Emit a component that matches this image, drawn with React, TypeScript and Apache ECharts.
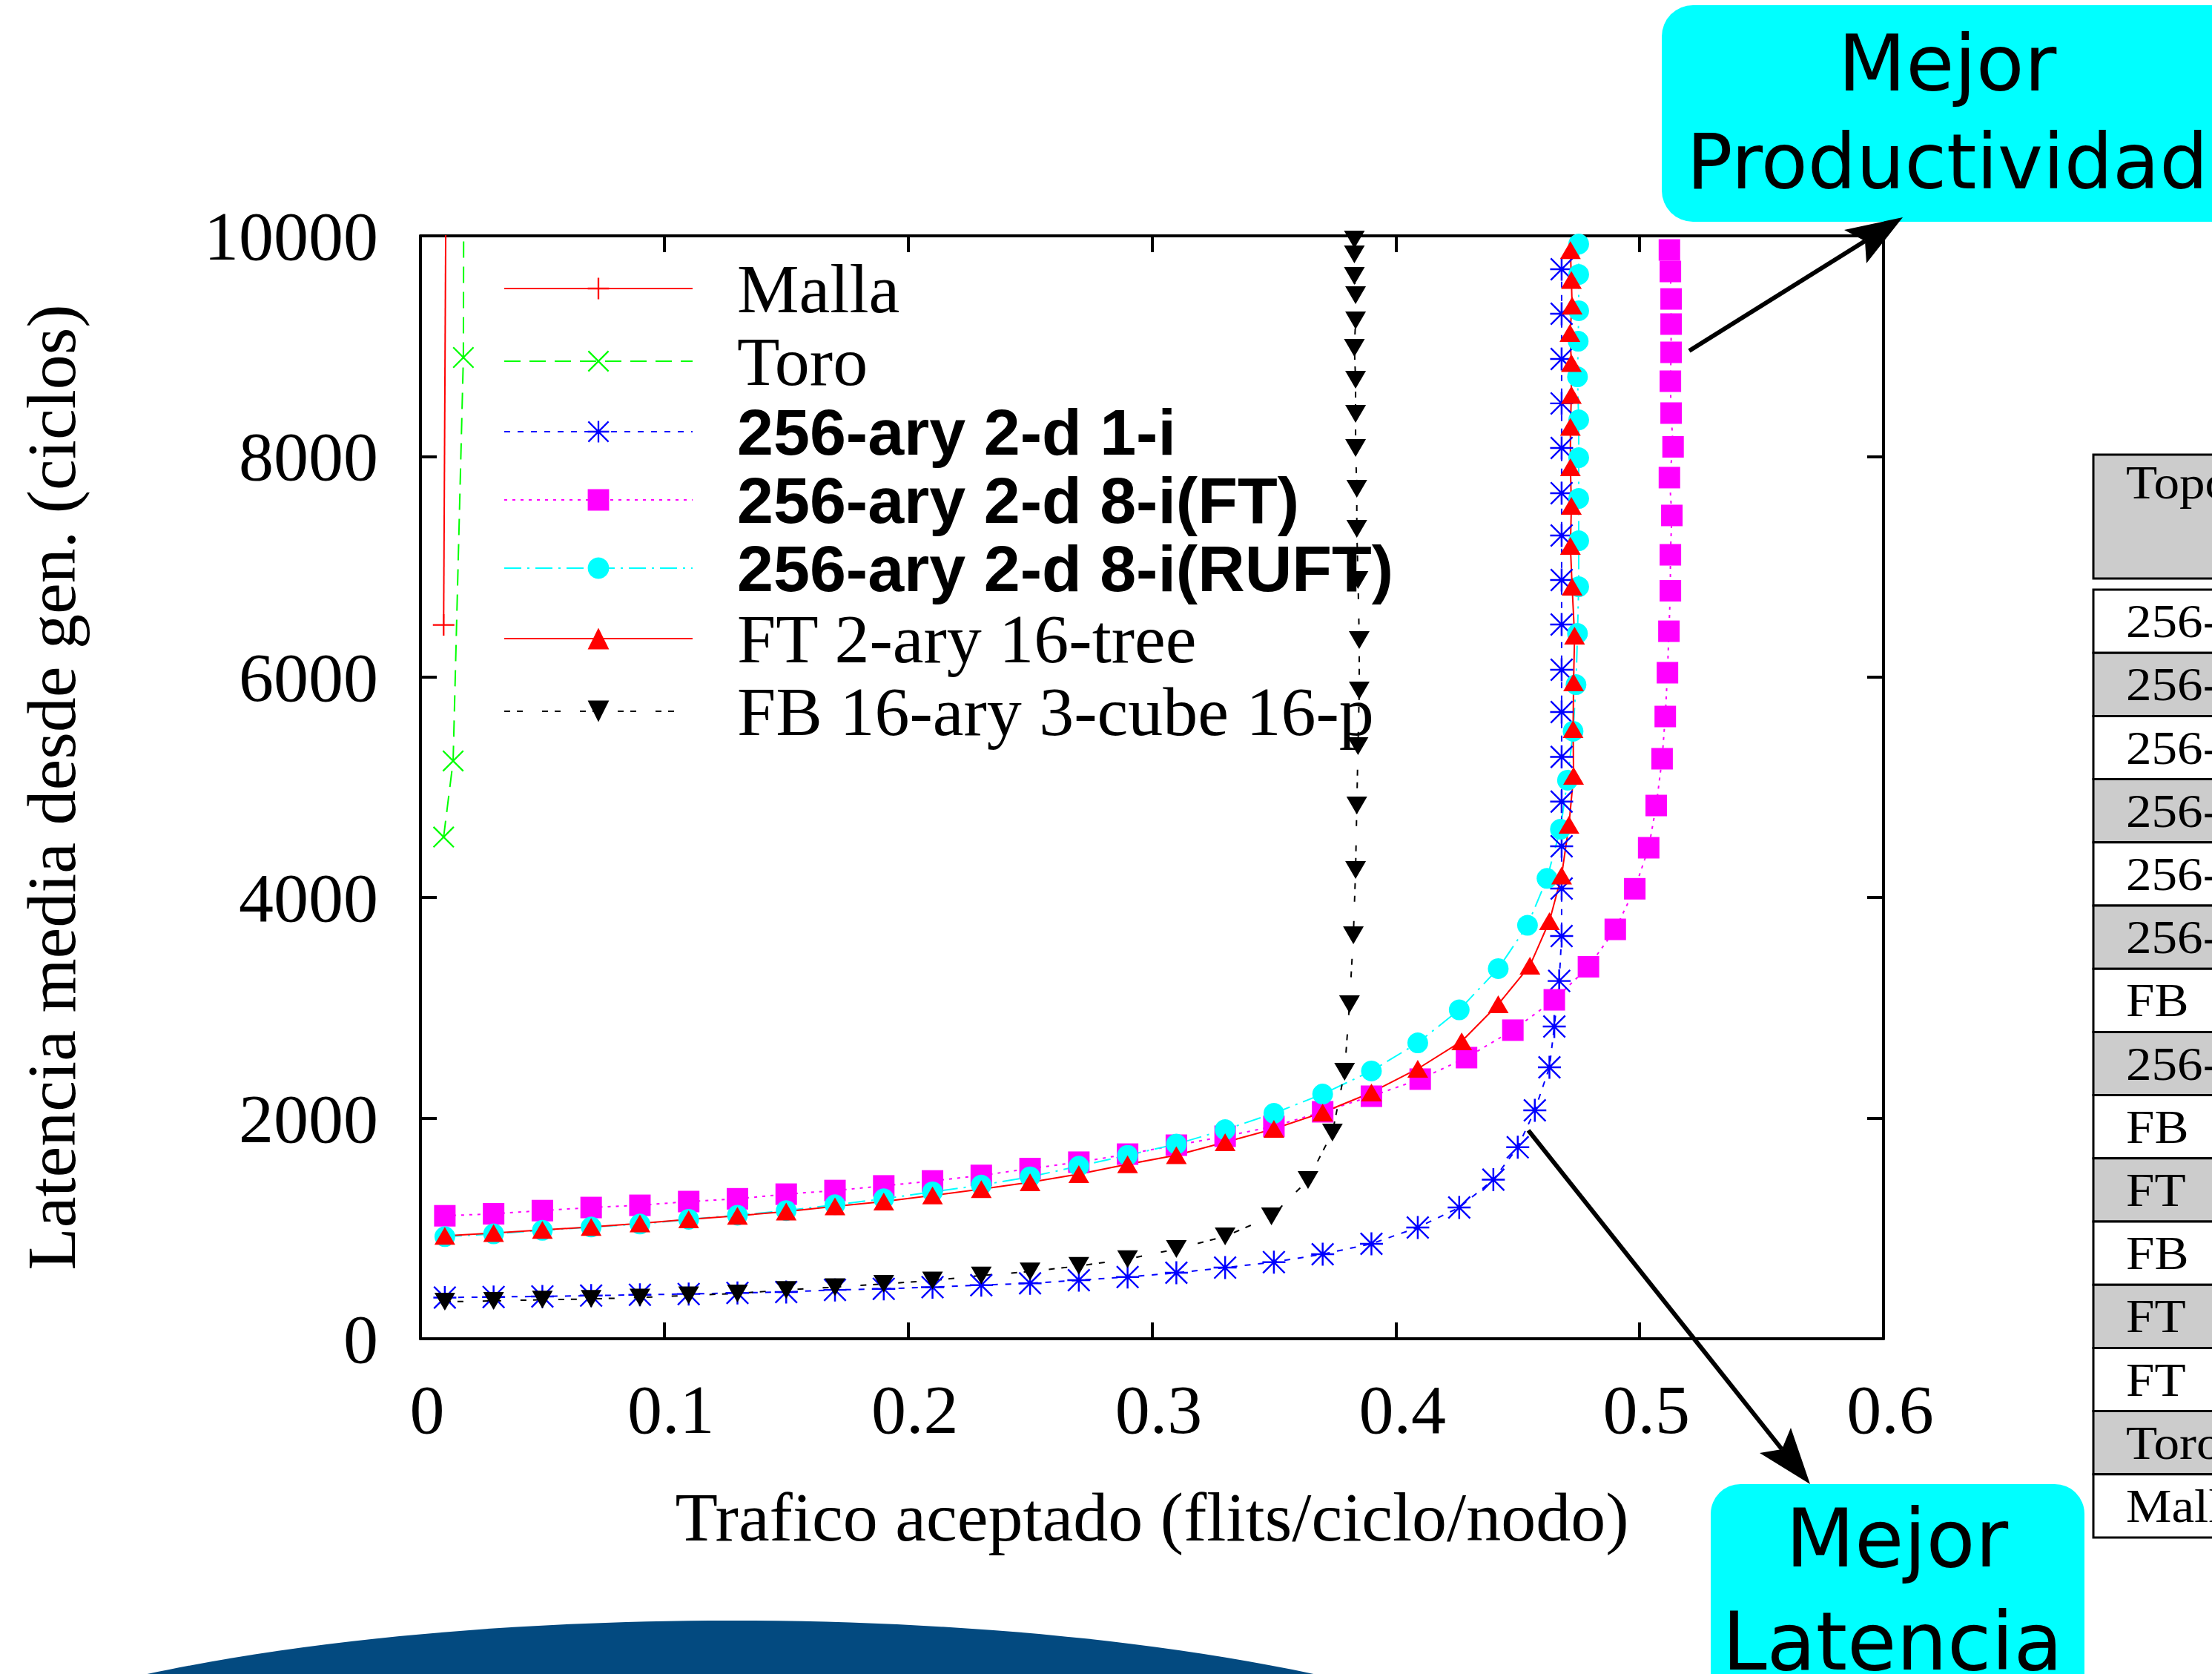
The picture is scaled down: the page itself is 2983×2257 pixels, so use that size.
import React, { useEffect, useRef } from "react";
import * as echarts from "echarts";

// ---------- data ----------
const seriesNames = [
  "Malla",
  "Toro",
  "256-ary 2-d 1-i",
  "256-ary 2-d 8-i(FT)",
  "256-ary 2-d 8-i(RUFT)",
  "FT 2-ary 16-tree",
  "FB 16-ary 3-cube 16-p",
];
const boldLegend = [false, false, true, true, true, false, false];

const xTickValues = [0, 0.1, 0.2, 0.3, 0.4, 0.5, 0.6];
const yTickValues = [0, 2000, 4000, 6000, 8000, 10000];

const mallaX = [0.0095, 0.0106];
const mallaY = [6472, 11000];

const toroX = [0.0095, 0.0134, 0.0176, 0.0178];
const toroY = [4549, 5239, 8897, 11000];

const oneIX = [0.01, 0.03, 0.05, 0.07, 0.09, 0.11, 0.13, 0.15, 0.17, 0.19, 0.21, 0.23, 0.25, 0.27, 0.29, 0.31, 0.33, 0.35, 0.37, 0.39,
  0.409, 0.426, 0.44, 0.45, 0.457, 0.463, 0.465, 0.467,
  0.468, 0.468, 0.468, 0.468, 0.468, 0.468, 0.468, 0.468, 0.468, 0.468, 0.468, 0.468, 0.468, 0.468, 0.468, 0.468];
const oneIY = [374, 379, 384, 391, 399, 406, 416, 424, 443, 453, 468, 486, 503, 531, 560, 598, 645, 695, 767, 861,
  1009, 1190, 1442, 1736, 2071, 2461, 2831, 3244,
  3651, 4082, 4466, 4871, 5276, 5683, 6066, 6476, 6880, 7283, 7667, 8077, 8481, 8884, 9294, 9697];

const ftX = [0.01, 0.03, 0.05, 0.07, 0.09, 0.11, 0.13, 0.15, 0.17, 0.19, 0.21, 0.23, 0.25, 0.27, 0.29, 0.31, 0.33, 0.35, 0.37, 0.39,
  0.41, 0.429, 0.448, 0.465, 0.479, 0.49, 0.498,
  0.5037, 0.5068, 0.5092, 0.5105, 0.5114, 0.512, 0.5126, 0.5126, 0.5132, 0.5122, 0.5137, 0.5129, 0.5126, 0.5129, 0.5129, 0.5129, 0.5126, 0.5122];
const ftY = [1115, 1133, 1162, 1190, 1210, 1244, 1269, 1311, 1344, 1386, 1431, 1481, 1543, 1601, 1674, 1755, 1836, 1926, 2058, 2199,
  2354, 2549, 2798, 3073, 3373, 3712, 4080,
  4452, 4835, 5259, 5642, 6039, 6415, 6782, 7108, 7465, 7808, 8087, 8393, 8682, 8944, 9200, 9428, 9677, 9872];

const ruftX = [0.01, 0.03, 0.05, 0.07, 0.09, 0.11, 0.13, 0.15, 0.17, 0.19, 0.21, 0.23, 0.25, 0.27, 0.29, 0.31, 0.33, 0.35, 0.37, 0.39,
  0.409, 0.426, 0.442, 0.454, 0.462,
  0.4675, 0.4704, 0.4727, 0.4739, 0.4745, 0.475, 0.475, 0.475, 0.475, 0.475, 0.4745, 0.4748, 0.475, 0.475, 0.475];
const ruftY = [926, 951, 983, 1013, 1040, 1083, 1120, 1162, 1215, 1269, 1332, 1393, 1468, 1565, 1663, 1765, 1896, 2044, 2219, 2428,
  2683, 2982, 3356, 3749, 4174,
  4620, 5064, 5508, 5931, 6395, 6819, 7236, 7619, 7989, 8332, 8722, 9045, 9321, 9650, 9926];

const treeX = [0.01, 0.03, 0.05, 0.07, 0.09, 0.11, 0.13, 0.15, 0.17, 0.19, 0.21, 0.23, 0.25, 0.27, 0.29, 0.31, 0.33, 0.35, 0.37, 0.39,
  0.409, 0.427, 0.442, 0.455, 0.463, 0.468,
  0.471, 0.4729, 0.4727, 0.4729, 0.4733, 0.4723, 0.4716, 0.472, 0.4716, 0.4716, 0.472, 0.472, 0.4714, 0.4723, 0.472, 0.4716];
const treeY = [933, 958, 987, 1013, 1046, 1083, 1115, 1153, 1200, 1244, 1299, 1356, 1419, 1493, 1582, 1664, 1782, 1903, 2051, 2233,
  2448, 2697, 3033, 3383, 3786, 4200,
  4660, 5104, 5528, 5951, 6375, 6819, 7189, 7552, 7902, 8268, 8557, 8847, 9119, 9368, 9600, 9871];

const fbX = [0.01, 0.03, 0.05, 0.07, 0.09, 0.11, 0.13, 0.15, 0.17, 0.19, 0.21, 0.23, 0.25, 0.27, 0.29, 0.31, 0.33,
  0.349, 0.364, 0.374, 0.379, 0.381, 0.3826, 0.3835,
  0.384, 0.3845, 0.385, 0.385, 0.3845, 0.384, 0.384, 0.3835, 0.3835, 0.3835, 0.383, 0.3835, 0.3835, 0.383, 0.383, 0.383];
const fbY = [336, 343, 354, 361, 374, 393, 411, 443, 468, 498, 528, 573, 610, 660, 722, 814, 928,
  1110, 1439, 1870, 2421, 3033, 3658, 4250,
  4835, 5373, 5878, 6335, 6880, 7344, 7707, 8077, 8386, 8695, 8985, 9233, 9462, 9637, 9832, 9966];

const tableHeader = "Topología";
const tableRows = ["256-ary", "256-ary", "256-ary", "256-ary", "256-ary", "256-ary", "FB", "256-ary", "FB", "FT", "FB", "FT", "FT", "Toro", "Malla"];

const xAxisTitle = "Trafico aceptado (flits/ciclo/nodo)";
const yAxisTitle = "Latencia media desde gen. (ciclos)";
const calloutTop = ["Mejor", "Productividad"];
const calloutBottom = ["Mejor", "Latencia"];

// ---------- helpers ----------
const zip = (xs: number[], ys: number[]) => xs.map((x, i) => [x, ys[i]]);

const plusPath = "path://M0,9.2L20,9.2L20,10.8L0,10.8Z M9.2,0L10.8,0L10.8,20L9.2,20Z";
const crossPath = "path://M0,1.1L1.1,0L20,18.9L18.9,20Z M18.9,0L20,1.1L1.1,20L0,18.9Z";
const starPath = "path://M0,9.2L20,9.2L20,10.8L0,10.8Z M9.2,0L10.8,0L10.8,20L9.2,20Z M0,1.1L1.1,0L20,18.9L18.9,20Z M18.9,0L20,1.1L1.1,20L0,18.9Z";

const serif = "Liberation Serif";
const sans = "DejaVu Sans";

function buildOption() {
  const datasets = [
    zip(mallaX, mallaY),
    zip(toroX, toroY),
    zip(oneIX, oneIY),
    zip(ftX, ftY),
    zip(ruftX, ruftY),
    zip(treeX, treeY),
    zip(fbX, fbY),
  ];
  const colors = ["#ff0000", "#00ff00", "#0000ff", "#ff00ff", "#00ffff", "#ff0000", "#000000"];
  const dashes: any[] = ["solid", [22, 12], [8, 10], [4, 7], [23, 8, 3, 8], "solid", [8, 9, 8, 26]];
  const symbols = [plusPath, crossPath, starPath, "rect", "circle", "triangle", "triangle"];
  const sizes: any[] = [29, 29, 31, 29, [28, 28], [28, 24], [28, 24]];
  const rotates = [0, 0, 0, 0, 0, 0, 180];

  const series = seriesNames.map((name, i) => ({
    name,
    type: "line",
    data: datasets[i],
    symbol: symbols[i],
    symbolSize: sizes[i],
    symbolRotate: rotates[i],
    showSymbol: true,
    showAllSymbol: true,
    clip: true,
    z: 3,
    lineStyle: { color: colors[i], width: 2, type: dashes[i] },
    itemStyle: { color: colors[i] },
    emphasis: { disabled: true },
    silent: true,
  }));

  const axisLineStyle = { color: "#000", width: 4 };
  const tickStyle = { show: true, inside: true, length: 22, lineStyle: { color: "#000", width: 4 } };

  const xMin = xTickValues[0];
  const xMax = xTickValues[xTickValues.length - 1];
  const xInt = xTickValues[1] - xTickValues[0];
  const yMin = yTickValues[0];
  const yMax = yTickValues[yTickValues.length - 1];
  const yInt = yTickValues[1] - yTickValues[0];

  const graphic: any[] = [];
  // bottom-left blue shape
  graphic.push({ type: "ellipse", z: 0, shape: { cx: 985, cy: 2485, rx: 1210, ry: 300 }, style: { fill: "#034a80" } });

  // top callout
  graphic.push({ type: "rect", z: 50, shape: { x: 2241, y: 7, width: 800, height: 292, r: 42 }, style: { fill: "#00ffff" } });
  graphic.push({ type: "text", z: 51, x: 2626, y: 85, style: { text: calloutTop[0], fill: "#000", fontSize: 106, fontFamily: sans, align: "center", verticalAlign: "middle" } });
  graphic.push({ type: "text", z: 51, x: 2626, y: 218, style: { text: calloutTop[1], fill: "#000", fontSize: 103, fontFamily: sans, align: "center", verticalAlign: "middle" } });
  // bottom callout
  graphic.push({ type: "rect", z: 50, shape: { x: 2307, y: 2001, width: 504, height: 400, r: 40 }, style: { fill: "#00ffff" } });
  graphic.push({ type: "text", z: 51, x: 2558, y: 2074, style: { text: calloutBottom[0], fill: "#000", fontSize: 108, fontFamily: sans, align: "center", verticalAlign: "middle" } });
  graphic.push({ type: "text", z: 51, x: 2552, y: 2213, style: { text: calloutBottom[1], fill: "#000", fontSize: 108, fontFamily: sans, align: "center", verticalAlign: "middle" } });

  // arrows
  graphic.push({ type: "line", z: 60, shape: { x1: 2278, y1: 473, x2: 2515, y2: 325 }, style: { stroke: "#000", lineWidth: 6 } });
  graphic.push({ type: "polygon", z: 60, shape: { points: [[2566, 293], [2487, 310], [2515, 325], [2517, 355]] }, style: { fill: "#000" } });
  graphic.push({ type: "line", z: 60, shape: { x1: 2061, y1: 1524, x2: 2403, y2: 1954 }, style: { stroke: "#000", lineWidth: 6 } });
  graphic.push({ type: "polygon", z: 60, shape: { points: [[2441, 2001], [2373, 1959], [2403, 1954], [2415, 1925]] }, style: { fill: "#000" } });

  // table
  const tLeft = 2823;
  graphic.push({ type: "rect", z: 40, shape: { x: tLeft, y: 613, width: 300, height: 167 }, style: { fill: "#cccccc", stroke: "#000", lineWidth: 3 } });
  graphic.push({ type: "text", z: 41, x: 2867, y: 650, scaleX: 1.08, style: { text: tableHeader, fill: "#000", fontSize: 64, fontFamily: serif, align: "left", verticalAlign: "middle" } });
  const rowTop = 795;
  const rowH = 85.2;
  tableRows.forEach((t, i) => {
    const y = rowTop + i * rowH;
    graphic.push({ type: "rect", z: 40, shape: { x: tLeft, y, width: 300, height: rowH }, style: { fill: i % 2 === 1 ? "#cccccc" : "#ffffff", stroke: "#000", lineWidth: 3 } });
    graphic.push({ type: "text", z: 41, x: 2867, y: y + rowH / 2, scaleX: 1.08, style: { text: t, fill: "#000", fontSize: 64, fontFamily: serif, align: "left", verticalAlign: "middle" } });
  });

  return {
    animation: false,
    backgroundColor: "#ffffff",
    grid: { left: 567, top: 318, width: 1973, height: 1487, containLabel: false },
    xAxis: [
      {
        type: "value", min: xMin, max: xMax, interval: xInt, position: "bottom",
        axisLine: { show: true, onZero: false, lineStyle: axisLineStyle },
        axisTick: tickStyle,
        splitLine: { show: false },
        axisLabel: {
          color: "#000", fontFamily: serif, fontSize: 94, lineHeight: 94, margin: 48,
          padding: [0, 0, 0, 18],
          formatter: (v: number) => String(Math.round(v * 10) / 10),
        },
        name: xAxisTitle, nameLocation: "middle", nameGap: 193,
        nameTextStyle: { color: "#000", fontFamily: serif, fontSize: 94, lineHeight: 94 },
      },
      {
        type: "value", min: xMin, max: xMax, interval: xInt, position: "top",
        axisLine: { show: true, onZero: false, lineStyle: axisLineStyle },
        axisTick: tickStyle, axisLabel: { show: false }, splitLine: { show: false },
      },
    ],
    yAxis: [
      {
        type: "value", min: yMin, max: yMax, interval: yInt, position: "left",
        axisLine: { show: true, onZero: false, lineStyle: axisLineStyle },
        axisTick: tickStyle,
        splitLine: { show: false },
        axisLabel: { color: "#000", fontFamily: serif, fontSize: 94, margin: 57, formatter: (v: number) => String(v) },
        name: yAxisTitle, nameLocation: "middle", nameGap: 451,
        nameTextStyle: { color: "#000", fontFamily: serif, fontSize: 94, lineHeight: 94 },
      },
      {
        type: "value", min: yMin, max: yMax, interval: yInt, position: "right",
        axisLine: { show: true, onZero: false, lineStyle: axisLineStyle },
        axisTick: tickStyle, axisLabel: { show: false }, splitLine: { show: false },
      },
    ],
    legend: {
      orient: "vertical",
      left: 679,
      top: 342,
      padding: 0,
      itemGap: 4,
      itemWidth: 254,
      itemHeight: 36,
      z: 1,
      selectedMode: false,
      textStyle: { color: "#000", fontFamily: serif, fontSize: 94, lineHeight: 36, padding: [0, 0, 0, 55] },
      data: seriesNames.map((n, i) => ({
        name: n,
        textStyle: boldLegend[i]
          ? { fontFamily: "Liberation Sans", fontWeight: "bold", fontSize: 88 }
          : { fontFamily: serif, fontSize: 94 },
      })),
    },
    series,
    graphic,
  };
}

export default function App() {
  const ref = useRef<HTMLDivElement>(null);
  useEffect(() => {
    document.body.style.margin = "0";
    const chart = echarts.init(ref.current!, null, { renderer: "svg", width: 2983, height: 2257 });
    chart.setOption(buildOption() as any);
    return () => chart.dispose();
  }, []);
  return (
    <div
      ref={ref}
      style={{ position: "fixed", left: 0, top: 0, width: 2983, height: 2257, background: "#fff", overflow: "hidden" }}
    />
  );
}
